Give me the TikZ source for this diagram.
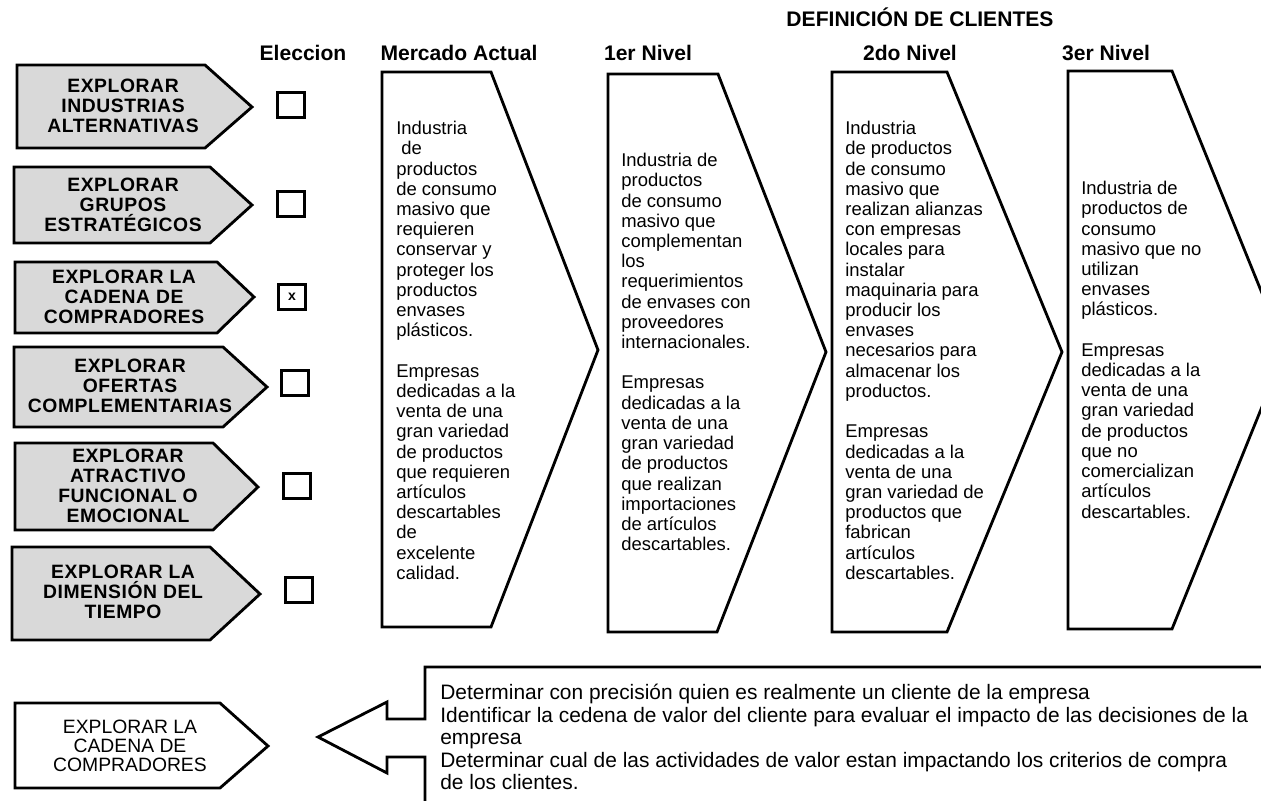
\documentclass[tikz,border=0pt]{standalone}
\usepackage{fontspec}
\setmainfont{Liberation Sans}
\newfontfamily\spacedsans{Liberation Sans}[LetterSpace=3]
\usetikzlibrary{positioning}

\begin{document}
\begin{tikzpicture}[
  x=0.02cm, y=-0.02cm,
  tag/.style={draw, line width=1.6pt, fill=gray!30, line join=miter},
  tagtext/.style={align=center, inner sep=0pt, font=\spacedsans\bfseries\fontsize{11}{11.4}\selectfont},
  pick/.style={draw, line width=1.6pt, minimum width=0.54cm, minimum height=0.5cm, inner sep=0pt},
  chev/.style={draw, line width=1.6pt, line join=miter},
  body/.style={align=left, anchor=north west, inner sep=0pt, font=\fontsize{10.5}{11.5}\selectfont},
  head/.style={anchor=base, inner sep=0pt, font=\bfseries\fontsize{12}{14}\selectfont}
]
\useasboundingbox (0,0) rectangle (1261,801);
\clip (0,0) rectangle (1261,801);

% column titles
\node[head] (defin) at (920,27) {DEFINICIÓN DE CLIENTES};
\node[head] (elec) at (303,60) {Eleccion};
\node[head] (merc) at (459,60) {Mercado Actual};
\node[head] (niv1) at (648,60) {1er Nivel};
\node[head] (niv2) at (910,60) {2do Nivel};
\node[head] (niv3) at (1106,60) {3er Nivel};

% the six paths
\draw[tag] (17,65) -- (205,65) -- (252,107) -- (205,148) -- (17,148) -- cycle;
\node[tagtext] (alt) at (123,106) {EXPLORAR\\INDUSTRIAS\\ALTERNATIVAS};
\draw[tag] (14,167) -- (210,167) -- (252,205) -- (210,243) -- (14,243) -- cycle;
\node[tagtext] (grp) at (123,205) {EXPLORAR\\GRUPOS\\ESTRATÉGICOS};
\draw[tag] (15,262) -- (217,262) -- (254,297) -- (217,333) -- (15,333) -- cycle;
\node[tagtext] (cad) at (124,297) {EXPLORAR LA\\CADENA DE\\COMPRADORES};
\draw[tag] (14,347) -- (223,347) -- (267,387) -- (223,427) -- (14,427) -- cycle;
\node[tagtext] (ofe) at (130,386) {EXPLORAR\\OFERTAS\\COMPLEMENTARIAS};
\draw[tag] (15,443) -- (213,443) -- (258,487) -- (213,530) -- (15,530) -- cycle;
\node[tagtext] (atr) at (128,486) {EXPLORAR\\ATRACTIVO\\FUNCIONAL O\\EMOCIONAL};
\draw[tag] (12,547) -- (210,547) -- (260,594) -- (210,640) -- (12,640) -- cycle;
\node[tagtext] (tie) at (123,592) {EXPLORAR LA\\DIMENSIÓN DEL\\TIEMPO};

% choice boxes
\node[pick] (c1) at (291,105) {};
\node[pick] (c2) at (291,204) {};
\node[pick, font=\bfseries\fontsize{8}{9}\selectfont] (c3) at (292,297) {x};
\node[pick] (c4) at (295,383) {};
\node[pick] (c5) at (297,486) {};
\node[pick] (c6) at (299,590) {};

% chevrons
\draw[chev] (382,72) -- (491,72) -- (598,350) -- (491,627) -- (382,627) -- cycle;
\draw[chev] (608,74) -- (718,74) -- (826,352) -- (717,632) -- (608,632) -- cycle;
\draw[chev] (832,72) -- (947,72) -- (1062,352) -- (947,632) -- (832,632) -- cycle;
\draw[chev] (1068,71) -- (1172,71) -- (1285,350) -- (1172,629) -- (1068,629) -- cycle;

\node[body] (act) at (396,121) {Industria\\\ de\\productos\\de consumo\\masivo que\\requieren\\conservar y\\proteger los\\productos\\envases\\plásticos.\\[11.5pt]
  Empresas\\dedicadas a la\\venta de una\\gran variedad\\de productos\\que requieren\\artículos\\descartables\\de\\excelente\\calidad.};
\node[body] (lv1) at (621,153) {Industria de\\productos\\de consumo\\masivo que\\complementan\\los\\requerimientos\\de envases con\\proveedores\\internacionales.\\[11.5pt]
  Empresas\\dedicadas a la\\venta de una\\gran variedad\\de productos\\que realizan\\importaciones\\de artículos\\descartables.};
\node[body] (lv2) at (845,121) {Industria\\de productos\\de consumo\\masivo que\\realizan alianzas\\con empresas\\locales para\\instalar\\maquinaria para\\producir los\\envases\\necesarios para\\almacenar los\\productos.\\[11.5pt]
  Empresas\\dedicadas a la\\venta de una\\gran variedad de\\productos que\\fabrican\\artículos\\descartables.};
\node[body] (lv3) at (1081,181) {Industria de\\productos de\\consumo\\masivo que no\\utilizan\\envases\\plásticos.\\[11.5pt]
  Empresas\\dedicadas a la\\venta de una\\gran variedad\\de productos\\que no\\comercializan\\artículos\\descartables.};

% bottom part
\draw[tag, fill=white] (15,703) -- (220,703) -- (268,746) -- (220,788) -- (15,788) -- cycle;
\node[align=center, inner sep=0pt, font=\fontsize{11}{10.8}\selectfont] (buyer) at (130,746) {EXPLORAR LA\\CADENA DE\\COMPRADORES};
\draw[chev] (1265,667) -- (425,667) -- (425,719) -- (387,719) -- (387,702) -- (318,737) -- (387,773) -- (387,757) -- (425,757) -- (425,805);
\node[body, font=\fontsize{11.9}{12.8}\selectfont] (goals) at (440,684) {Determinar con precisión quien es realmente un cliente de la empresa\\Identificar la cedena de valor del cliente para evaluar el impacto de las decisiones de la\\empresa\\Determinar cual de las actividades de valor estan impactando los criterios de compra\\de los clientes.};

\end{tikzpicture}
\end{document}
